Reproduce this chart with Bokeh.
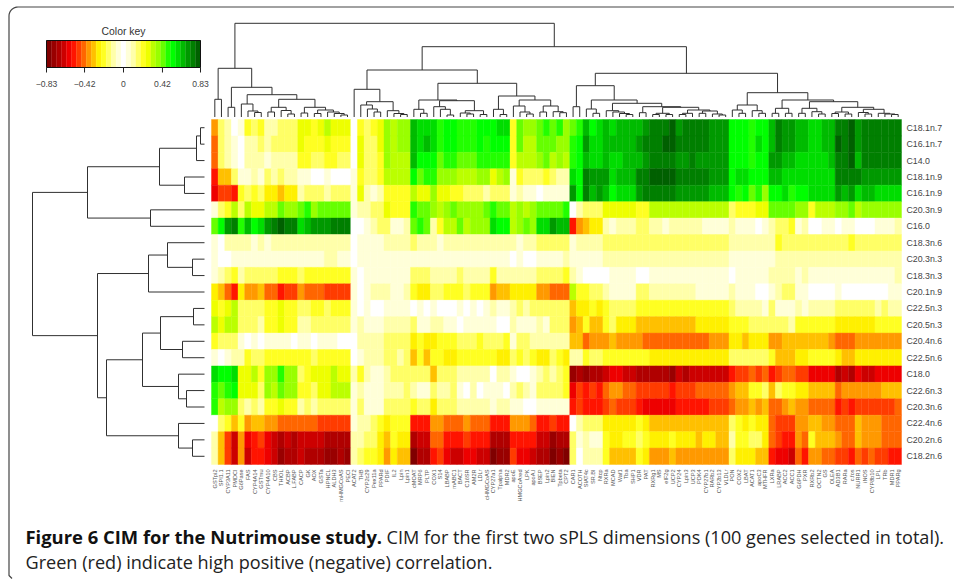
from bokeh.plotting import figure
from bokeh.models import Range1d, LinearColorMapper, ColumnDataSource
from bokeh.core.properties import value
from bokeh.embed import file_html
from bokeh.resources import INLINE
import numpy as np

# Values are read as steps of the colour key: -15 (dark red) .. 0 (white) .. 15 (dark green)
key_max = 0.83
key_ticks = [-0.83, -0.42, 0, 0.42, 0.83]
key_tick_labels = ["\u22120.83", "\u22120.42", "0", "0.42", "0.83"]
key_palette = ["#800000", "#990000", "#B00000", "#CC0000", "#EE0000", "#FF1400", "#FF3C00", "#FF6600",
               "#FF9900", "#FFC000", "#FFF000", "#FFFF22", "#FFFF66", "#FFFFAA", "#FFFFD8", "#FFFFFF",
               "#FFFFD8", "#FFFFAA", "#FFFF66", "#FFFF22", "#EEFF00", "#BBFF00", "#99FF00", "#66FF00",
               "#22FF00", "#00FF00", "#00DD00", "#00BB00", "#009900", "#007F00", "#006000"]

row_names = ["C18.1n.7", "C16.1n.7", "C14.0", "C18.1n.9", "C16.1n.9", "C20.3n.9", "C16.0", "C18.3n.6",
             "C20.3n.3", "C18.3n.3", "C20.1n.9", "C22.5n.3", "C20.5n.3", "C20.4n.6", "C22.5n.6", "C18.0",
             "C22.6n.3", "C20.3n.6", "C22.4n.6", "C20.2n.6", "C18.2n.6"]

gene_names = ["GSTpi2", "SPI1.1", "CYP3A11", "PMDCI", "G6Pase", "FAS", "CYP4A14", "GSTmu", "CYP4A10", "CBS",
              "THIOL", "ACBP", "L.FABP", "CACP", "GK", "AOX", "GSTa", "HPNCL", "ALDH3", "mHMGCoAS", "PECI",
              "ACAT2", "THB", "CYP2c29", "Pex11a", "PPARd", "PDIF", "IL2", "Lpin", "Lpin1", "cMOAT", "MRP6",
              "PLTP", "COX1", "S14", "LBABP", "mABC1", "BACT", "C16SR", "AM2R", "LDLr", "cHMGCoAS", "CYP27a1",
              "Tpalpha", "MDR2", "apoE", "HMGCoAred", "LPK", "apoA.I", "BSEP", "Lpin2", "BIEN", "Tpbeta",
              "CPT2", "CAR1", "ACOTH", "SIAT4c", "SR.BI", "Ntcp", "RXRa", "MCAD", "Waf1", "Tba", "SHP1", "VDR",
              "PAT", "RXRg1", "MS", "eIF2g", "UCP2", "CYP24", "Lpin3", "UCP3", "PDK4", "CYP27b1", "RARb2",
              "CYP2b13", "VLDLr", "PON", "COX2", "LBAT", "ACAT1", "apoC3", "MTHFR", "LXRa", "LRABP", "ACC2",
              "ACC1", "G6PDH", "PXR", "RXRb2", "OCTN2", "GS", "OLEA", "AD3B1", "RARa", "c.fos", "NURR1", "iNOS",
              "CYP8b10", "LPL", "TRb", "MDR1", "PPARg"]

C18_1n_7 = [-7,3,2,0,1,4,3,4,2,2,3,3,3,5,5,4,5,6,5,5,5,
    0,4,3,4,5,7,6,7,7,12,11,11,11,9,10,10,9,9,9,10,10,10,11,11,4,8,7,7,8,9,8,9,
    7,8,9,12,10,11,12,11,12,12,12,12,13,14,14,14,15,13,14,14,14,14,13,13,13,10,10,10,9,10,10,12,14,13,13,12,12,11,11,12,12,14,14,15,13,14,14,14,14,14,14]
C16_1n_7 = [-8,3,2,1,0,2,2,3,2,3,3,3,3,5,4,4,4,5,4,4,4,
    0,5,3,3,5,7,6,7,7,12,11,12,11,9,10,10,9,9,9,10,9,10,10,10,4,8,6,6,8,8,8,7,
    7,9,10,13,11,11,12,12,12,12,12,13,14,14,14,15,15,14,14,14,14,14,13,13,13,10,10,10,9,11,10,12,14,13,13,12,12,11,11,12,12,15,14,15,13,14,14,14,14,14,14]
C14_0 = [-8,3,2,1,0,2,2,2,1,2,2,2,2,4,4,3,3,4,4,3,3,
    0,5,3,3,4,7,6,6,6,12,10,10,10,8,9,9,8,8,8,9,9,9,9,9,4,6,6,6,7,8,6,7,
    6,9,10,12,11,11,12,11,11,12,12,12,13,14,14,14,14,13,13,14,13,13,13,13,13,10,10,10,9,10,10,13,13,12,12,11,11,11,11,11,12,14,14,15,12,14,14,14,14,14,14]
C18_1n_9 = [-10,-6,-6,3,1,1,2,1,3,2,3,2,2,1,1,0,0,1,0,0,0,
    1,4,3,3,4,6,6,6,6,10,8,9,9,7,7,7,6,6,6,7,7,5,6,7,1,4,3,3,3,4,3,2,
    2,11,10,14,13,13,13,11,12,12,12,14,14,15,15,15,15,14,14,14,14,14,13,13,13,10,11,11,10,10,10,12,12,11,11,11,11,11,11,11,11,14,14,14,14,13,13,13,13,13,13]
C16_1n_9 = [-11,-9,-9,-10,4,3,4,3,-5,-5,-6,-5,-5,2,3,3,3,2,3,3,3,
    1,5,2,1,2,4,4,4,4,6,5,5,7,5,5,4,4,3,3,3,2,3,3,3,1,2,1,1,0,1,1,1,
    1,13,10,14,12,13,12,10,11,11,11,13,14,14,14,14,14,13,13,13,13,13,12,12,12,10,9,10,8,9,7,10,10,11,9,10,10,11,11,11,11,13,12,13,11,12,12,11,11,11,11]
C20_3n_9 = [1,3,4,6,3,6,5,5,6,6,8,7,7,8,9,7,8,8,8,8,8,
    1,2,2,3,3,5,4,4,4,9,8,8,7,6,7,8,7,7,7,7,8,9,8,8,6,7,6,7,8,8,8,8,
    9,0,2,3,3,3,5,5,5,5,5,4,4,6,6,6,6,6,6,6,6,6,6,6,6,3,4,4,4,5,5,8,8,8,8,7,7,4,6,6,6,7,7,8,6,7,7,7,7,7,7]
C16_0 = [8,10,13,14,9,12,10,11,13,14,15,14,14,11,12,13,13,13,14,14,14,
    0,0,1,2,3,3,1,1,2,8,9,8,2,4,6,6,8,6,7,7,7,11,10,10,6,7,8,7,11,11,13,12,
    12,-10,-7,-6,-5,-5,2,1,2,2,2,3,3,2,2,1,2,2,2,2,2,1,1,1,1,2,1,1,1,0,1,2,3,3,4,1,2,0,0,1,1,0,1,1,0,0,0,1,1,1,2]
C18_3n_6 = [1,0,2,2,2,2,1,2,1,2,2,2,2,2,2,2,2,2,2,2,2,
    0,1,1,1,1,2,2,2,2,3,2,2,2,1,2,2,2,2,2,2,2,2,2,2,2,1,2,2,3,3,3,3,
    3,1,2,2,2,2,3,3,3,3,3,3,3,3,3,3,3,3,3,3,3,3,3,3,3,2,2,2,2,2,2,2,4,3,3,3,3,3,3,3,3,3,3,4,3,3,3,3,3,3,3]
C20_3n_3 = [1,0,0,1,1,1,1,1,1,1,1,1,1,1,1,1,1,2,2,1,1,
    0,1,1,1,1,1,1,1,1,1,1,1,1,1,1,1,1,1,1,1,1,1,1,1,0,1,0,0,1,1,1,1,
    2,1,1,1,1,1,2,2,2,2,2,2,2,2,2,2,2,2,2,2,2,2,2,2,2,1,1,1,1,1,1,1,2,2,2,2,2,2,2,2,2,2,2,2,2,2,2,2,2,2,2]
C18_3n_3 = [1,2,3,4,2,3,3,3,3,3,4,4,4,3,4,4,4,4,4,4,4,
    1,0,1,1,1,1,1,1,1,3,3,3,2,2,2,2,3,2,2,2,2,4,2,2,2,2,2,2,3,3,3,3,
    4,2,1,0,0,0,0,1,1,1,1,0,0,1,1,1,1,1,1,1,1,1,1,1,1,0,1,1,1,1,1,2,2,2,2,1,2,1,1,1,1,1,1,1,1,1,1,1,1,1,2]
C20_1n_9 = [-5,-6,-8,-10,-5,-7,-7,-6,-8,-8,-10,-9,-9,-7,-8,-8,-8,-9,-9,-9,-9,
    1,0,1,2,2,2,1,1,2,4,-5,-5,3,3,4,4,4,3,4,4,4,-7,-6,-6,-5,-5,-5,-5,-7,-7,-8,-8,
    -8,6,4,4,3,3,2,1,1,1,1,3,3,2,2,2,2,2,2,2,1,1,1,1,1,2,1,1,1,0,0,1,2,3,3,1,1,0,0,0,0,1,0,0,0,0,0,0,0,1,1]
C22_5n_3 = [5,4,5,6,3,3,3,3,4,4,5,4,4,3,3,4,4,3,4,4,4,
    1,0,1,0,0,1,1,1,1,0,1,0,1,0,0,0,1,0,1,0,1,2,1,1,2,3,2,3,3,3,3,3,
    3,-6,-5,-5,4,-5,4,3,3,3,3,4,4,4,4,4,4,4,4,4,4,4,4,4,4,3,2,2,2,2,1,3,1,1,1,2,1,2,2,2,2,3,3,3,3,3,3,2,3,2,2]
C20_5n_3 = [6,5,6,6,3,3,3,2,4,4,5,4,4,2,2,3,3,3,3,3,3,
    1,2,1,1,1,2,2,2,2,3,1,1,2,2,1,1,0,1,1,1,1,1,0,0,2,1,1,1,2,1,3,3,
    3,-7,-6,4,-6,-6,4,3,-5,-5,-5,-6,-6,-6,-6,-6,-6,-6,-6,-6,-5,-5,-5,-5,-5,4,4,4,3,3,3,3,3,3,2,4,4,4,4,4,4,-5,-5,-5,-5,-5,-5,4,4,4,4]
C20_4n_6 = [4,3,3,3,1,0,1,0,1,1,1,1,0,1,1,0,1,1,1,0,0,
    0,2,2,2,2,3,3,3,3,-5,4,-5,-5,4,4,4,3,3,3,4,3,3,3,4,1,3,3,2,2,2,2,2,
    2,-6,-6,-8,-7,-7,-7,-6,-7,-7,-7,-7,-8,-8,-8,-8,-8,-8,-8,-8,-8,-8,-7,-7,-7,-5,-5,-6,-5,-5,-5,-7,-7,-6,-6,-6,-6,-6,-6,-6,-7,-8,-8,-8,-7,-7,-7,-7,-7,-7,-7]
C22_5n_6 = [1,0,1,2,2,4,3,3,4,4,4,4,4,4,4,3,4,4,4,4,4,
    0,1,2,2,2,3,3,2,3,-6,4,-6,4,4,-5,-5,4,4,4,4,4,4,-5,-5,3,4,3,4,-5,-5,3,4,
    -5,2,2,4,3,3,4,4,4,4,4,4,4,-5,-5,-5,-5,-5,-5,-5,-5,-5,-5,-5,-5,3,3,3,3,3,3,4,-6,-6,-6,-5,-5,4,4,4,4,-5,-6,-6,-5,-5,-5,-5,-5,-5,-5]
C18_0 = [11,10,10,11,5,5,6,4,7,7,9,7,7,3,4,5,5,5,6,5,5,
    2,4,2,1,1,2,3,3,3,3,3,3,-6,3,3,3,2,2,2,2,2,0,2,2,1,0,0,1,2,3,2,3,
    4,-14,-13,-14,-13,-13,-12,-11,-11,-12,-12,-13,-13,-13,-13,-13,-14,-12,-13,-12,-12,-12,-12,-12,-12,-10,-9,-9,-8,-9,-8,-10,-9,-8,-8,-9,-9,-11,-11,-11,-11,-13,-12,-13,-11,-12,-12,-11,-11,-11,-11]
C22_6n_3 = [9,8,9,10,5,5,5,3,7,6,8,7,7,4,4,3,5,5,6,6,6,
    1,2,1,1,1,2,2,2,3,2,1,1,3,2,2,3,1,0,2,0,1,1,1,0,2,3,2,1,3,3,3,3,
    4,-11,-9,-10,-9,-10,-8,-7,-7,-8,-8,-9,-9,-9,-9,-9,-10,-9,-9,-9,-8,-8,-8,-8,-8,-7,-6,-6,4,4,3,-6,3,4,4,-5,-5,-6,-6,-6,-6,-8,-7,-7,-7,-7,-7,-7,-6,-6,-6]
C20_3n_6 = [9,6,7,7,3,2,3,2,4,4,5,4,4,2,3,2,3,3,3,3,3,
    1,3,1,1,1,3,3,3,3,4,3,3,-5,3,3,3,2,2,2,2,2,1,2,2,1,1,0,0,1,1,1,1,
    1,-10,-9,-10,-10,-10,-9,-8,-9,-9,-9,-10,-11,-11,-11,-11,-11,-10,-10,-10,-10,-10,-9,-9,-9,-8,-7,-7,-6,-7,-6,-8,-8,-7,-6,-7,-7,-8,-8,-8,-8,-10,-9,-10,-9,-9,-9,-9,-9,-9,-8]
C22_4n_6 = [0,3,4,-6,4,-7,-6,-6,-7,-7,-8,-8,-8,-8,-8,-8,-9,-9,-9,-9,-9,
    1,2,2,3,4,-5,4,4,4,-10,-10,-10,-7,-7,-8,-8,-8,-7,-8,-8,-8,-10,-10,-10,-7,-7,-7,-8,-10,-10,-9,-10,
    -10,0,2,3,3,3,-5,-5,-5,-5,-5,4,-5,-6,-6,-6,-6,-6,-6,-6,-6,-6,-6,-6,-6,3,4,-5,4,-5,-5,-8,-9,-9,-9,-7,-7,-6,-6,-7,-7,-8,-8,-8,-6,-7,-7,-7,-8,-8,-8]
C20_2n_6 = [2,-6,-9,-12,-7,-11,-10,-9,-11,-12,-13,-12,-13,-12,-12,-12,-12,-13,-13,-13,-13,
    2,2,3,3,-5,-6,4,-5,-5,-13,-12,-12,-8,-8,-10,-10,-10,-9,-10,-10,-10,-13,-13,-13,-10,-10,-10,-10,-12,-12,-14,-13,
    -13,3,1,2,1,1,4,-5,-5,4,4,3,4,-5,-5,-5,4,-5,-5,-5,-6,-5,-5,-6,-6,2,4,4,3,3,-5,-8,-9,-10,-10,-7,-8,4,-6,-6,-6,-7,-8,-8,-6,-7,-7,-7,-8,-8,-8]
C18_2n_6 = [2,-6,-9,-12,-7,-12,-10,-10,-11,-12,-14,-13,-13,-12,-13,-13,-13,-14,-14,-13,-14,
    2,3,4,4,-5,-7,-5,-6,-6,-15,-13,-13,-10,-9,-11,-12,-12,-11,-11,-12,-12,-15,-14,-14,-9,-11,-11,-12,-13,-13,-15,-14,
    -15,3,0,2,2,2,4,-6,-6,-6,-6,4,-5,-7,-7,-7,-6,-7,-7,-7,-7,-7,-7,-7,-7,3,-5,-5,-5,-6,-6,-10,-11,-11,-12,-8,-10,-7,-7,-8,-8,-9,-9,-10,-8,-9,-8,-9,-9,-10,-10]

heat_rows = [C18_1n_7, C16_1n_7, C14_0, C18_1n_9, C16_1n_9, C20_3n_9, C16_0, C18_3n_6, C20_3n_3, C18_3n_3,
             C20_1n_9, C22_5n_3, C20_5n_3, C20_4n_6, C22_5n_6, C18_0, C22_6n_3, C20_3n_6, C22_4n_6, C20_2n_6,
             C18_2n_6]

# Dendrograms as merges: (height, left, right), a bare int is a leaf
row_tree = (172,
    (117,
        (45, (8, (4, 0, 1), 2), (20, 3, 4)),
        (54, 5, 6)),
    (107,
        (56, (37, 7, (12, 8, 9)), 10),
        (98,
            (62,
                (44, (11, 11, 12), (22, 13, 14)),
                (26, 15, (18, 16, 17))),
            (26, 18, (12, 19, 20)))))

col_tree = (93.7,
    (48.7,
        (17.7, 0, 1),
        (29.7,
            (9.7, 2, 3),
            (22.3,
                (13, 4, (6, 5, (4.5, 6, 7))),
                (17.7,
                    (9.7, (5, 8, 9), (6.5, 10, (3, 11, 12))),
                    (9.7, (4, 13, 14), (7, (3.5, 15, 16), (5, 17, (3.5, 18, (2, 19, 20)))))))),
    ),
    (70.3,
        (47,
            (27.7,
                21,
                (15.3,
                    (12, 22, (8, 23, (5, 24, 25))),
                    (6.3, 26, (3.5, 27, (2.5, 28, 29))))),
            (33.7,
                (17,
                    (7.7, 30, (3.7, 31, 32)),
                    (16.3,
                        (10.3, 33, (7.7, 34, (2, 35, 36))),
                        (6.3, (4, 37, (3, 38, 39)), (2.5, 40, 41)))),
                (21,
                    (7.7, 42, (2.5, 43, 44)),
                    (17,
                        (11, 45, (5, 46, (3, 47, 48))),
                        (11, (5, 49, 50), (5.3, 51, (4.3, 52, 53))))))),
        (43.7,
            (31.3,
                (10.3, 54, 55),
                (17,
                    (8, 56, (3.7, 57, 58)),
                    (13.7,
                        (6.3, 59, (5, 60, (3.5, 61, (2.5, 62, 63)))),
                        (10.3,
                            (4.3, 64, 65),
                            (9.7,
                                (3.7, (2.5, 66, 67), (2.5, 68, 69)),
                                (7,
                                    (3.7, (2.5, 70, 71), 72),
                                    (6, (3.7, 73, 74), (3, 75, (2, 76, 77))))))))),
            (24.3,
                (12, (7, 78, (3.7, 79, 80)), (6.3, 81, (3.7, 82, 83))),
                (17,
                    (8.7, (3.7, 84, 85), (3.7, 86, 87)),
                    (15.3,
                        (8.7, (3.7, 88, 89), (5.3, 90, (3, 91, 92))),
                        (9.7,
                            (5, (3.5, 93, 94), (3, 95, 96)),
                            (7.7,
                                (4.5, 97, (3, 98, 99)),
                                (3.7, 100, (3, 101, (2.5, 102, 103)))))))))))

caption_bold = "Figure 6 CIM for the Nutrimouse study."
caption_rest = "CIM for the first two sPLS dimensions (100 genes selected in total)."
caption_line2 = "Green (red) indicate high positive (negative) correlation."
key_title = "Color key"

assert all(len(r) == len(gene_names) for r in heat_rows), [len(r) for r in heat_rows] + [len(gene_names)]

# ---- layout (page pixels)
W, H = 954, 580
HM_L, HM_R, HM_T, HM_B = 211.0, 901.0, 119.0, 464.0
KEY_L, KEY_R, KEY_T, KEY_B = 46.0, 200.0, 40.0, 67.0
COL_BASE, ROW_BASE = 116.5, 204.0
n_c, n_r = len(gene_names), len(row_names)
cw, rh = (HM_R - HM_L) / n_c, (HM_B - HM_T) / n_r
key_scale = (KEY_R - KEY_L) / (2 * key_max)

p = figure(width=W, height=H, x_range=Range1d(0, W), y_range=Range1d(H, 0),
           output_backend="svg", toolbar_location=None, min_border=0,
           background_fill_color="white", border_fill_color="white", outline_line_color=None)
p.xaxis.visible = False
p.yaxis.visible = False
p.xgrid.visible = False
p.ygrid.visible = False

p.extra_x_ranges = {
    "cols": Range1d(-HM_L / cw, (W - HM_L) / cw),
    "depth": Range1d(ROW_BASE, ROW_BASE - W),
    "key": Range1d((0 - (KEY_L + KEY_R) / 2) / key_scale, (W - (KEY_L + KEY_R) / 2) / key_scale),
}
p.extra_y_ranges = {
    "rows": Range1d((H - HM_T) / rh, -HM_T / rh),
    "hgt": Range1d(COL_BASE - H, COL_BASE),
}

# ---- heatmap
mapper = LinearColorMapper(palette=key_palette, low=-key_max, high=key_max)
step = 2 * key_max / len(key_palette)
xs, ys, vals = [], [], []
for r, row in enumerate(heat_rows):
    for c, lev in enumerate(row):
        xs.append(c + 0.5)
        ys.append(r + 0.5)
        vals.append(lev * step)
cells = ColumnDataSource(dict(x=xs, y=ys, v=vals))
spec = {"field": "v", "transform": mapper}
p.rect("x", "y", 1, 1, source=cells, fill_color=spec, line_color=spec, line_width=0.4,
       x_range_name="cols", y_range_name="rows")


# ---- dendrograms
def walk(node, out):
    if not isinstance(node, tuple):
        return node + 0.5, 0.0
    h, a, b = node
    pa, ha = walk(a, out)
    pb, hb = walk(b, out)
    out.append((pa, h, pb, h))
    out.append((pa, ha, pa, h))
    out.append((pb, hb, pb, h))
    return (pa + pb) / 2, h


segs = []
walk(col_tree, segs)
s = np.array(segs)
p.segment(s[:, 0], s[:, 1], s[:, 2], s[:, 3], line_color="#303030", line_width=1,
          x_range_name="cols", y_range_name="hgt")
segs = []
walk(row_tree, segs)
s = np.array(segs)
p.segment(s[:, 1], s[:, 0], s[:, 3], s[:, 2], line_color="#303030", line_width=1,
          x_range_name="depth", y_range_name="rows")

# ---- labels
p.text([n_c + 0.75] * n_r, [i + 0.5 for i in range(n_r)], text=row_names, text_font=value("Liberation Sans"),
       text_font_size="8.8px", text_color="#444444", text_baseline="middle", text_align="left",
       x_range_name="cols", y_range_name="rows")
p.text([i + 0.5 for i in range(n_c)], [n_r + 0.3] * n_c, text=gene_names, angle=np.pi / 2,
       text_font=value("Liberation Sans"), text_font_size="5.6px", text_color="#555555",
       text_baseline="middle", text_align="right", x_range_name="cols", y_range_name="rows")

# ---- colour key
edges = np.linspace(-key_max, key_max, len(key_palette) + 1)
p.quad(left=edges[:-1], right=edges[1:], top=KEY_T, bottom=KEY_B, fill_color=key_palette,
       line_color=key_palette, line_width=0.3, x_range_name="key")
p.quad(left=[-key_max], right=[key_max], top=[KEY_T], bottom=[KEY_B], fill_color=None,
       line_color="#111111", line_width=1, x_range_name="key")
p.segment(key_ticks, KEY_B, key_ticks, KEY_B + 5, line_color="#222222", line_width=1, x_range_name="key")
p.text(key_ticks, KEY_B + 16, text=key_tick_labels, text_font=value("Liberation Sans"), text_font_size="8.6px",
       text_color="#444444", text_align="center", text_baseline="middle", x_range_name="key")
p.text([0], [31], text=[key_title], text_font=value("Liberation Sans"), text_font_size="10.4px",
       text_color="#333333", text_align="center", text_baseline="middle", x_range_name="key")

# ---- frame and caption
r = 9
t = np.linspace(np.pi, 1.5 * np.pi, 12)
fx = [8.5 + 3, 8.5] + list(8.5 + r + r * np.cos(t)) + [W]
fy = [578, 575] + list(6.5 + r + r * np.sin(t)) + [6.5]
p.line(fx, fy, line_color="#444444", line_width=1.2)

p.text([25], [536], text=[caption_bold], text_font=value("Open Sans"), text_font_style="bold", text_font_size="18.4px",
       text_color="#111111", text_baseline="alphabetic")
p.text([386], [536], text=[caption_rest], text_font=value("Open Sans"), text_font_size="18.1px",
       text_color="#222222", text_baseline="alphabetic")
p.text([25], [561.5], text=[caption_line2], text_font=value("Open Sans"), text_font_size="18.1px",
       text_color="#222222", text_baseline="alphabetic")

open("out.html", "w").write(file_html(p, INLINE))
